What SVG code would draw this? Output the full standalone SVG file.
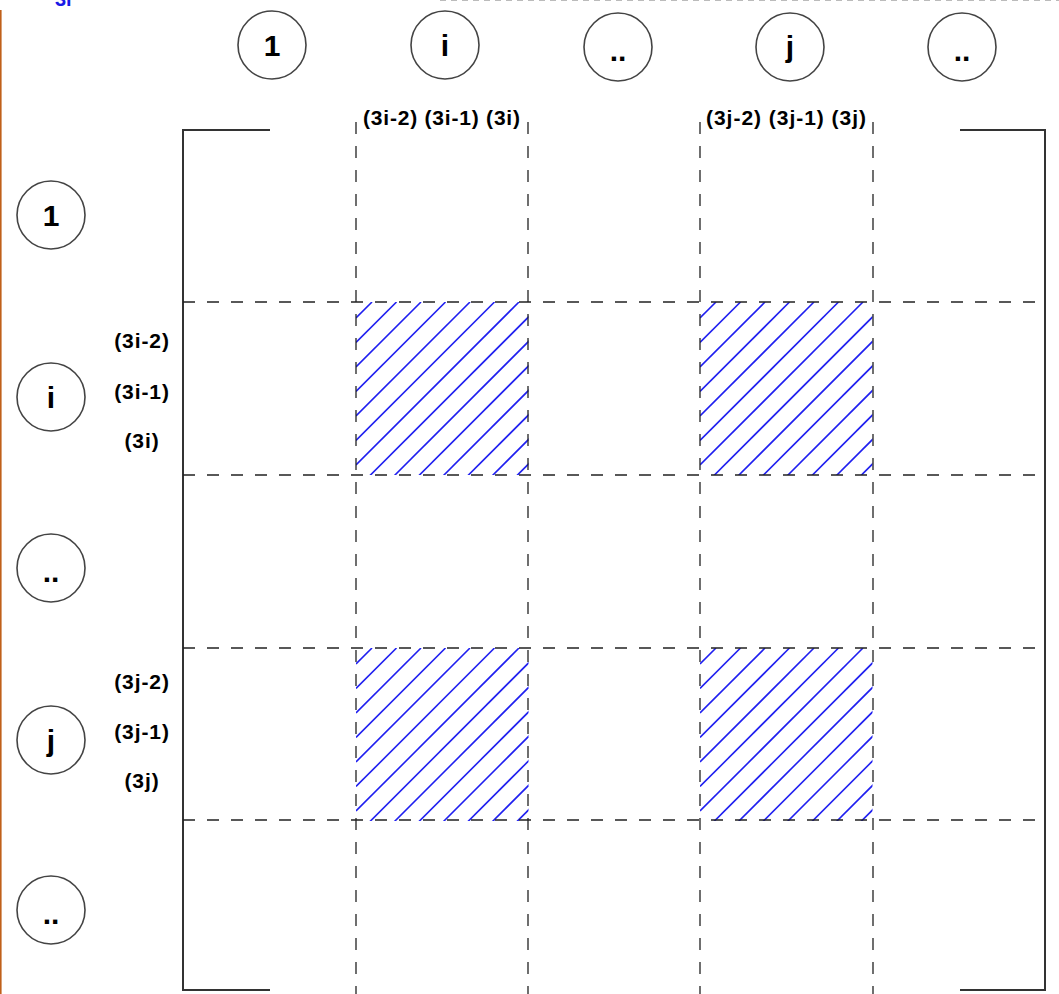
<svg xmlns="http://www.w3.org/2000/svg" width="1059" height="994" viewBox="0 0 1059 994">
<style>
.node circle{fill:#fff;stroke:#444;stroke-width:1.6}
.node text{font-family:"Liberation Sans",Arial,sans-serif;font-weight:bold;font-size:30px;fill:#000;text-anchor:middle}
.lbl{font-family:"Liberation Sans",Arial,sans-serif;font-weight:bold;font-size:21px;fill:#000}
.side{letter-spacing:0.9px;text-anchor:middle}
.dash{stroke:#222;stroke-width:1.3;stroke-dasharray:12 12;fill:none}
.br{stroke:#333;stroke-width:2;fill:none}
.hl line{stroke:#1f1ff0;stroke-width:1.6}
</style>
<defs>
<clipPath id="sq"><rect x="0" y="0" width="172.5" height="173"/></clipPath>
<g id="hl" class="hl" clip-path="url(#sq)">
<line x1="0" y1="16" x2="16" y2="0"/>
<line x1="0" y1="40.5" x2="40.5" y2="0"/>
<line x1="0" y1="65" x2="65" y2="0"/>
<line x1="0" y1="89.5" x2="89.5" y2="0"/>
<line x1="0" y1="114" x2="114" y2="0"/>
<line x1="0" y1="138.5" x2="138.5" y2="0"/>
<line x1="0" y1="163" x2="163" y2="0"/>
<line x1="0" y1="187.5" x2="187.5" y2="0"/>
<line x1="0" y1="212" x2="212" y2="0"/>
<line x1="0" y1="236.5" x2="236.5" y2="0"/>
<line x1="0" y1="261" x2="261" y2="0"/>
<line x1="0" y1="285.5" x2="285.5" y2="0"/>
<line x1="0" y1="310" x2="310" y2="0"/>
<line x1="0" y1="334.5" x2="334.5" y2="0"/>
</g>
</defs>
<rect width="1059" height="994" fill="#fff"/>
<line x1="0.8" y1="10" x2="0.8" y2="994" stroke="#c0601a" stroke-width="1.6"/>
<line x1="440" y1="0.5" x2="1059" y2="0.5" stroke="#bbb" stroke-width="1" stroke-dasharray="6 5"/>
<text x="55" y="6" font-family="Liberation Sans,Arial,sans-serif" font-weight="bold" font-size="20" fill="#1a1ae6">3i</text>
<g id="cells">
<use href="#hl" x="356" y="302"/>
<use href="#hl" x="700" y="302"/>
<use href="#hl" x="356" y="648"/>
<use href="#hl" x="700" y="648"/>
</g>
<g id="connectors">
<path class="br" d="M270,130 H183 V990 H270"/>
<path class="br" d="M960,130 H1045 V990 H960"/>
<line class="dash" x1="356" y1="122" x2="356" y2="994"/>
<line class="dash" x1="528" y1="122" x2="528" y2="994"/>
<line class="dash" x1="700" y1="122" x2="700" y2="994"/>
<line class="dash" x1="873" y1="122" x2="873" y2="994"/>
<line class="dash" x1="183" y1="302" x2="1045" y2="302"/>
<line class="dash" x1="183" y1="475" x2="1045" y2="475"/>
<line class="dash" x1="183" y1="648" x2="1045" y2="648"/>
<line class="dash" x1="183" y1="820" x2="1045" y2="820"/>
</g>
<g id="col-1" class="node"><circle cx="272" cy="45" r="34"/><text x="272" y="56">1</text></g>
<g id="col-i" class="node"><circle cx="445" cy="45" r="34"/><text x="445" y="56">i</text></g>
<g id="col-dots1" class="node"><circle cx="618" cy="47" r="34"/><text x="618" y="61">..</text></g>
<g id="col-j" class="node"><circle cx="790" cy="47" r="34"/><text x="790" y="57">j</text></g>
<g id="col-dots2" class="node"><circle cx="962" cy="47" r="34"/><text x="962" y="61">..</text></g>
<g id="row-1" class="node"><circle cx="51" cy="215" r="34"/><text x="51" y="226">1</text></g>
<g id="row-i" class="node"><circle cx="51" cy="397" r="34"/><text x="51" y="408">i</text></g>
<g id="row-dots1" class="node"><circle cx="51" cy="568" r="34"/><text x="51" y="582">..</text></g>
<g id="row-j" class="node"><circle cx="51" cy="740" r="34"/><text x="51" y="751">j</text></g>
<g id="row-dots2" class="node"><circle cx="51" cy="910" r="34"/><text x="51" y="924">..</text></g>
<g id="labels">
<text class="lbl" x="363" y="125" textLength="157" lengthAdjust="spacing">(3i-2) (3i-1) (3i)</text>
<text class="lbl" x="706" y="125" textLength="160" lengthAdjust="spacing">(3j-2) (3j-1) (3j)</text>
<text class="lbl side" x="142" y="348">(3i-2)</text>
<text class="lbl side" x="142" y="399">(3i-1)</text>
<text class="lbl side" x="142" y="448">(3i)</text>
<text class="lbl side" x="142" y="689">(3j-2)</text>
<text class="lbl side" x="142" y="739">(3j-1)</text>
<text class="lbl side" x="142" y="788">(3j)</text>
</g>
</svg>
